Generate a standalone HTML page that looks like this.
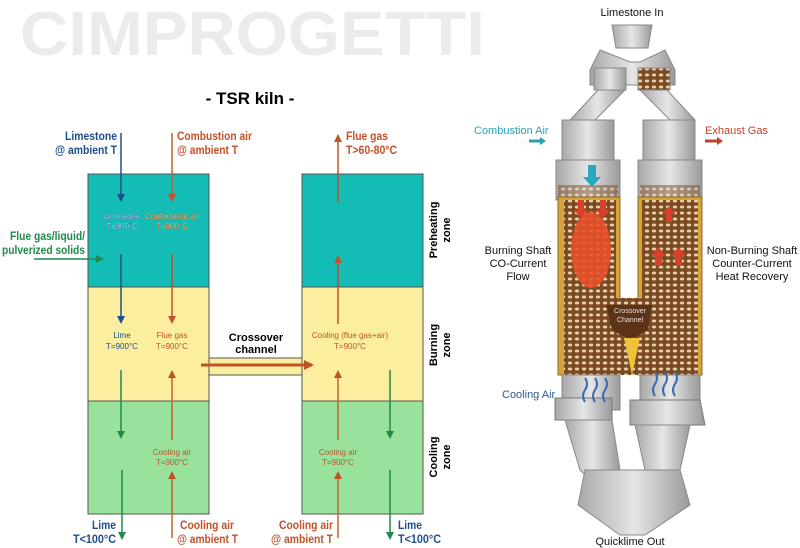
<!DOCTYPE html>
<html><head><meta charset="utf-8"><style>
html,body{margin:0;padding:0;background:#fff;width:800px;height:548px;overflow:hidden}
svg{display:block}
text{font-family:"Liberation Sans",Arial,sans-serif}
</style></head><body>
<svg width="800" height="548" viewBox="0 0 800 548" xmlns="http://www.w3.org/2000/svg">
<defs>
<marker id="ab" markerWidth="8" markerHeight="8" refX="6" refY="4" orient="auto" markerUnits="userSpaceOnUse"><path d="M0,0 L8,4 L0,8 Z" fill="#1f4e8c"/></marker>
<marker id="ao" markerWidth="8" markerHeight="8" refX="6" refY="4" orient="auto" markerUnits="userSpaceOnUse"><path d="M0,0 L8,4 L0,8 Z" fill="#c0522a"/></marker>
<marker id="ag" markerWidth="8" markerHeight="8" refX="6" refY="4" orient="auto" markerUnits="userSpaceOnUse"><path d="M0,0 L8,4 L0,8 Z" fill="#1f8a4c"/></marker>
<marker id="ar" markerWidth="10" markerHeight="10" refX="8" refY="5" orient="auto" markerUnits="userSpaceOnUse"><path d="M0,0 L10,5 L0,10 Z" fill="#c0522a"/></marker>
<linearGradient id="gm" x1="0" x2="1"><stop offset="0" stop-color="#a8a8a8"/><stop offset=".5" stop-color="#e6e6e6"/><stop offset="1" stop-color="#9a9a9a"/></linearGradient>
<pattern id="pb" width="7" height="6" patternUnits="userSpaceOnUse"><rect width="7" height="6" fill="#7a4a22"/><ellipse cx="3" cy="3" rx="2.2" ry="1.5" fill="#e8cfa8"/></pattern>
</defs>

<!-- logo -->
<text x="20" y="55" font-size="62" font-weight="bold" fill="#ebebeb" textLength="465" lengthAdjust="spacingAndGlyphs">CIMPROGETTI</text>
<text x="250" y="104" font-size="17" font-weight="bold" text-anchor="middle" fill="#000">- TSR kiln -</text>

<!-- left box -->
<rect x="88" y="174" width="121" height="113" fill="#13bcb4" stroke="#555" stroke-width="1"/>
<rect x="88" y="287" width="121" height="114" fill="#fbef9f" stroke="#555" stroke-width="1"/>
<rect x="88" y="401" width="121" height="113" fill="#98e29c" stroke="#555" stroke-width="1"/>
<!-- right box -->
<rect x="302" y="174" width="121" height="113" fill="#13bcb4" stroke="#555" stroke-width="1"/>
<rect x="302" y="287" width="121" height="114" fill="#fbef9f" stroke="#555" stroke-width="1"/>
<rect x="302" y="401" width="121" height="113" fill="#98e29c" stroke="#555" stroke-width="1"/>
<!-- crossover channel -->
<rect x="209" y="358" width="93" height="17" fill="#fbef9f" stroke="#555" stroke-width="1"/>
<line x1="201" y1="365" x2="312" y2="365" stroke="#c0522a" stroke-width="3" marker-end="url(#ar)"/>
<text x="256" y="341" font-size="11" font-weight="bold" text-anchor="middle">Crossover</text>
<text x="256" y="353" font-size="11" font-weight="bold" text-anchor="middle">channel</text>

<!-- left arrows -->
<line x1="121" y1="133" x2="121" y2="200" stroke="#1f4e8c" stroke-width="1.5" marker-end="url(#ab)"/>
<line x1="121" y1="254" x2="121" y2="322" stroke="#1f4e8c" stroke-width="1.5" marker-end="url(#ab)"/>
<line x1="121" y1="370" x2="121" y2="437" stroke="#1f8a4c" stroke-width="1.5" marker-end="url(#ag)"/>
<line x1="122" y1="470" x2="122" y2="538" stroke="#1f8a4c" stroke-width="1.5" marker-end="url(#ag)"/>
<line x1="172" y1="133" x2="172" y2="200" stroke="#c0622a" stroke-width="1.5" marker-end="url(#ao)"/>
<line x1="172" y1="254" x2="172" y2="322" stroke="#c0522a" stroke-width="1.5" marker-end="url(#ao)"/>
<line x1="172" y1="440" x2="172" y2="372" stroke="#c0622a" stroke-width="1.5" marker-end="url(#ao)"/>
<line x1="172" y1="538" x2="172" y2="473" stroke="#c0622a" stroke-width="1.5" marker-end="url(#ao)"/>
<line x1="34" y1="259" x2="102" y2="259" stroke="#1f8a4c" stroke-width="1.5" marker-end="url(#ag)"/>

<!-- right arrows -->
<line x1="338" y1="203" x2="338" y2="136" stroke="#c0522a" stroke-width="1.5" marker-end="url(#ao)"/>
<line x1="338" y1="324" x2="338" y2="257" stroke="#c0522a" stroke-width="1.5" marker-end="url(#ao)"/>
<line x1="338" y1="440" x2="338" y2="372" stroke="#c0622a" stroke-width="1.5" marker-end="url(#ao)"/>
<line x1="338" y1="538" x2="338" y2="473" stroke="#c0622a" stroke-width="1.5" marker-end="url(#ao)"/>
<line x1="390" y1="370" x2="390" y2="437" stroke="#1f8a4c" stroke-width="1.5" marker-end="url(#ag)"/>
<line x1="390" y1="470" x2="390" y2="538" stroke="#1f8a4c" stroke-width="1.5" marker-end="url(#ag)"/>

<!-- outer labels -->
<g font-size="12" font-weight="bold">
<text x="65" y="140" textLength="52" lengthAdjust="spacingAndGlyphs" fill="#1f4e8c">Limestone</text>
<text x="55" y="154" textLength="62" lengthAdjust="spacingAndGlyphs" fill="#1f4e8c">@ ambient T</text>
<text x="177" y="140" textLength="75" lengthAdjust="spacingAndGlyphs" fill="#c0522a">Combustion air</text>
<text x="177" y="154" textLength="61" lengthAdjust="spacingAndGlyphs" fill="#c0522a">@ ambient T</text>
<text x="346" y="140" textLength="42" lengthAdjust="spacingAndGlyphs" fill="#c0522a">Flue gas</text>
<text x="346" y="154" textLength="51" lengthAdjust="spacingAndGlyphs" fill="#c0522a">T&gt;60-80°C</text>
<text x="10" y="240" textLength="75" lengthAdjust="spacingAndGlyphs" fill="#1f8a4c">Flue gas/liquid/</text>
<text x="2" y="254" textLength="83" lengthAdjust="spacingAndGlyphs" fill="#1f8a4c">pulverized solids</text>
<text x="92" y="529" textLength="24" lengthAdjust="spacingAndGlyphs" fill="#1f4e8c">Lime</text>
<text x="73" y="543" textLength="43" lengthAdjust="spacingAndGlyphs" fill="#1f4e8c">T&lt;100°C</text>
<text x="180" y="529" textLength="54" lengthAdjust="spacingAndGlyphs" fill="#c0522a">Cooling air</text>
<text x="177" y="543" textLength="61" lengthAdjust="spacingAndGlyphs" fill="#c0522a">@ ambient T</text>
<text x="279" y="529" textLength="54" lengthAdjust="spacingAndGlyphs" fill="#c0522a">Cooling air</text>
<text x="271" y="543" textLength="62" lengthAdjust="spacingAndGlyphs" fill="#c0522a">@ ambient T</text>
<text x="398" y="529" textLength="24" lengthAdjust="spacingAndGlyphs" fill="#1f4e8c">Lime</text>
<text x="398" y="543" textLength="43" lengthAdjust="spacingAndGlyphs" fill="#1f4e8c">T&lt;100°C</text>
</g>
<!-- inner labels -->
<g font-size="8" text-anchor="middle">
<text x="122" y="219" fill="#fff" stroke="#2a6fa0" stroke-width=".3">Limestone</text>
<text x="122" y="229" fill="#fff" stroke="#2a6fa0" stroke-width=".3">T=900°C</text>
<text x="172" y="219" fill="#f4e0a0" stroke="#b0602a" stroke-width=".3">Combustion air</text>
<text x="172" y="229" fill="#f4e0a0" stroke="#b0602a" stroke-width=".3">T=900°C</text>
<text x="122" y="338" fill="#1f4e8c">Lime</text>
<text x="122" y="349" fill="#1f4e8c">T=900°C</text>
<text x="172" y="338" fill="#c0522a">Flue gas</text>
<text x="172" y="349" fill="#c0522a">T=900°C</text>
<text x="350" y="338" fill="#c0522a">Cooling (flue gas+air)</text>
<text x="350" y="349" fill="#c0522a">T=900°C</text>
<text x="172" y="455" fill="#c0522a">Cooling air</text>
<text x="172" y="465" fill="#c0522a">T=900°C</text>
<text x="338" y="455" fill="#c0522a">Cooling air</text>
<text x="338" y="465" fill="#c0522a">T=900°C</text>
</g>
<g font-size="11" font-weight="bold" text-anchor="middle">
<text transform="translate(437,230) rotate(-90)">Preheating</text>
<text transform="translate(450,230) rotate(-90)">zone</text>
<text transform="translate(437,345) rotate(-90)">Burning</text>
<text transform="translate(450,345) rotate(-90)">zone</text>
<text transform="translate(437,457) rotate(-90)">Cooling</text>
<text transform="translate(450,457) rotate(-90)">zone</text>
</g>

<!-- kiln illustration -->
<g>
<text x="632" y="16" font-size="11" text-anchor="middle" fill="#111">Limestone In</text>
<path d="M612,25 L652,25 L648,48 L616,48 Z" fill="url(#gm)" stroke="#888"/>
<path d="M600,50 L630,62 L640,62 L665,50 L675,70 L675,85 L590,85 L590,70 Z" fill="url(#gm)" stroke="#888"/>
<rect x="594" y="68" width="32" height="22" fill="url(#gm)" stroke="#888"/>
<rect x="638" y="68" width="32" height="22" fill="url(#pb)" stroke="#888"/>
<path d="M598,90 L625,90 L585,130 L570,120 Z" fill="url(#gm)" stroke="#888"/>
<path d="M640,90 L667,90 L695,120 L680,130 Z" fill="url(#gm)" stroke="#888"/>
<rect x="562" y="120" width="52" height="80" fill="url(#gm)" stroke="#888"/>
<rect x="643" y="120" width="52" height="80" fill="url(#gm)" stroke="#888"/>
<rect x="556" y="160" width="64" height="40" fill="url(#gm)" stroke="#888"/>
<rect x="638" y="160" width="64" height="40" fill="url(#gm)" stroke="#888"/>
<rect x="558" y="185" width="60" height="15" fill="url(#pb)" opacity=".5"/>
<rect x="640" y="185" width="60" height="15" fill="url(#pb)" opacity=".5"/>
<rect x="558" y="197" width="62" height="178" fill="#d6a23a" stroke="#8a6a2a"/>
<rect x="638" y="197" width="64" height="178" fill="#d6a23a" stroke="#8a6a2a"/>
<rect x="564" y="200" width="52" height="175" fill="url(#pb)"/>
<rect x="642" y="200" width="56" height="175" fill="url(#pb)"/>
<path d="M616,298 L642,298 L642,375 L616,375 Z" fill="url(#pb)"/>
<path d="M606,305 L652,305 L648,330 L630,340 L612,330 Z" fill="#5a3318"/>
<path d="M624,338 L632,375 L640,338 Z" fill="#f0c23a"/>
<text x="630" y="313" font-size="7" text-anchor="middle" fill="#f0e0d0">Crossover</text>
<text x="630" y="322" font-size="7" text-anchor="middle" fill="#f0e0d0">Channel</text>
<ellipse cx="591" cy="250" rx="20" ry="38" fill="#e8502a" opacity=".9"/>
<g fill="#d8402a">
<path d="M578,200 h6 v10 h4 l-7,8 l-7,-8 h4z"/><path d="M600,200 h6 v10 h4 l-7,8 l-7,-8 h4z"/>
<path d="M666,222 h6 v-8 h4 l-7,-8 l-7,8 h4z"/><path d="M655,266 h7 v-10 h4 l-7.5,-9 l-7.5,9 h4z"/><path d="M675,266 h7 v-10 h4 l-7.5,-9 l-7.5,9 h4z"/>
</g>
<path d="M588,165 h8 v12 h5 l-9,10 l-9,-10 h5z" fill="#28a8c0"/>
<path d="M562,375 L620,375 L620,410 L562,410 Z" fill="url(#gm)" stroke="#888"/>
<path d="M640,375 L700,375 L700,410 L640,410 Z" fill="url(#gm)" stroke="#888"/>
<path d="M555,398 L612,398 L612,420 L555,420 Z" fill="url(#gm)" stroke="#777"/>
<path d="M630,400 L700,400 L705,425 L630,425 Z" fill="url(#gm)" stroke="#777"/>
<path d="M565,420 L612,420 L620,470 L600,490 L580,470 Z" fill="url(#gm)" stroke="#888"/>
<path d="M635,425 L690,425 L680,470 L660,490 L645,470 Z" fill="url(#gm)" stroke="#888"/>
<path d="M585,470 L680,470 L690,505 L645,535 L620,535 L578,505 Z" fill="url(#gm)" stroke="#888"/>
<g stroke="#3a6ab0" stroke-width="2" fill="none">
<path d="M585,378 q4,6 0,12 q-4,6 0,12"/><path d="M595,378 q4,6 0,12 q-4,6 0,12"/><path d="M605,378 q4,6 0,12 q-4,6 0,12"/>
<path d="M655,372 q4,6 0,12 q-4,6 0,12"/><path d="M665,372 q4,6 0,12 q-4,6 0,12"/><path d="M675,372 q4,6 0,12 q-4,6 0,12"/>
</g>
<text x="630" y="545" font-size="11" text-anchor="middle" fill="#111">Quicklime Out</text>
<text x="474" y="134" font-size="11" fill="#2aa0b8">Combustion Air</text>
<path d="M529,141 h12" stroke="#2aa0b8" stroke-width="3"/><path d="M540,137 l6,4 l-6,4z" fill="#2aa0b8"/>
<text x="705" y="134" font-size="11" fill="#c0402a">Exhaust Gas</text>
<path d="M705,141 h13" stroke="#c0402a" stroke-width="3"/><path d="M717,137 l6,4 l-6,4z" fill="#c0402a"/>
<g font-size="11" text-anchor="middle" fill="#111">
<text x="518" y="254">Burning Shaft</text><text x="518" y="267">CO-Current</text><text x="518" y="280">Flow</text>
<text x="752" y="254">Non-Burning Shaft</text><text x="752" y="267">Counter-Current</text><text x="752" y="280">Heat Recovery</text>
</g>
<text x="502" y="398" font-size="11" fill="#2a5a9a">Cooling Air</text>
</g>
</svg>
</body></html>
